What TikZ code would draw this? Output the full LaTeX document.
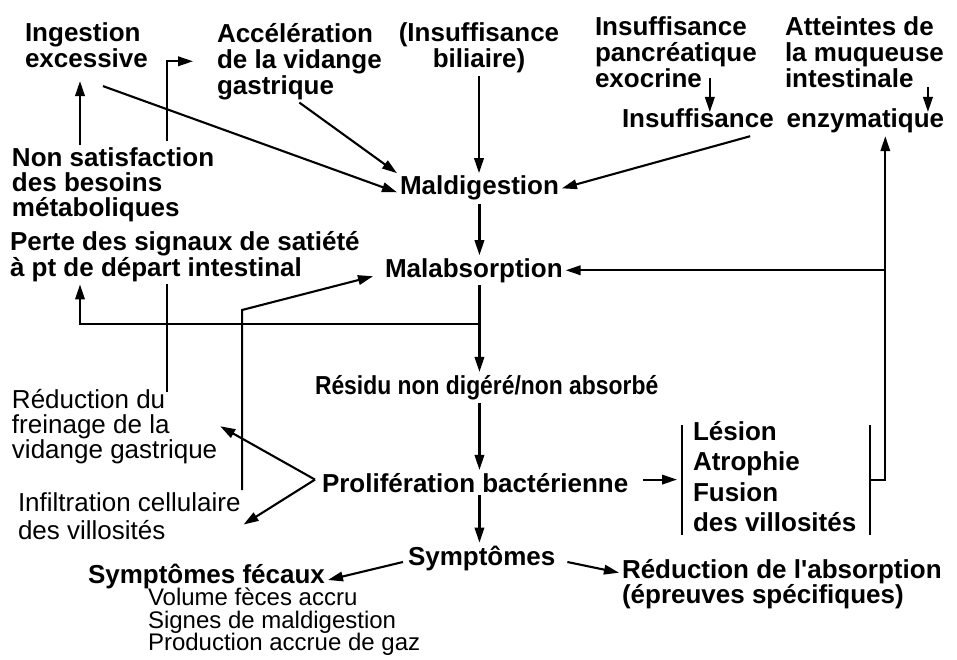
\documentclass[tikz,border=0pt]{standalone}
\usepackage{fontspec}
\setmainfont{Liberation Sans}[Ligatures=TeXOff]
\usetikzlibrary{arrows.meta}
\newcommand\boxfont{\fontsize{26}{26}\selectfont\bfseries}
\newcommand\notefont{\fontsize{26}{25}\selectfont}
\newcommand\listfont{\fontsize{24}{22.5}\selectfont}
\tikzset{
  stagetext/.style={font=\boxfont, inner sep=0pt, outer sep=3pt, align=left},
  notetext/.style={font=\notefont, inner sep=0pt, outer sep=3pt, align=left},
  flowarrow/.style={-{Triangle[length=15pt,width=9.5pt]}, line width=2.1pt},
  flowline/.style={line width=2.1pt},
}

\begin{document}
\begin{tikzpicture}[x=1pt,y=-1pt]
  \useasboundingbox (0,0) rectangle (957,660);
  \fill[white] (0,0) rectangle (957,660);
  \node[stagetext, anchor=north west] (ingest) at (22,20) {Ingestion\\excessive};
  \node[stagetext, anchor=north west] (accel) at (214,20) {Accélération\\de la vidange\\gastrique};
  \node[stagetext, anchor=north, align=center] (bili) at (479,20) {(Insuffisance\\biliaire)};
  \node[stagetext, anchor=north west] (pancr) at (592,14) {Insuffisance\\pancréatique\\exocrine};
  \node[stagetext, anchor=north west] (atteint) at (782,14) {Atteintes de\\la muqueuse\\intestinale};
  \node[stagetext, anchor=north west] (enzym) at (619,106) {Insuffisance\hspace{13pt}enzymatique};
  \node[stagetext, anchor=north west, font=\fontsize{26}{25}\selectfont\bfseries] (nonsat) at (9,145) {Non satisfaction\\des besoins\\métaboliques};
  \node[stagetext, anchor=north west] (perte) at (7,228) {Perte des signaux de satiété\\à pt de départ intestinal};
  \node[stagetext, anchor=base west] (maldig) at (397,195) {Maldigestion};
  \node[stagetext, anchor=base west] (malabs) at (382,277) {Malabsorption};
  \node[stagetext, anchor=base west] (residu) at (312,394) {\addfontfeature{FakeStretch=0.88}Résidu non digéré/non absorbé};
  \node[stagetext, anchor=base west] (prolif) at (319,492) {Prolifération bactérienne};
  \node[stagetext, anchor=north west, font=\fontsize{26}{30.5}\selectfont\bfseries] (lesion) at (690,418) {Lésion\\Atrophie\\Fusion\\des villosités};
  \node[notetext, anchor=north west] (freinage) at (9,386) {Réduction du\\freinage de la\\vidange gastrique};
  \node[notetext, anchor=north west, font=\fontsize{26}{28}\selectfont] (infiltr) at (15,490) {Infiltration cellulaire\\des villosités};
  \node[stagetext, anchor=base west] (sympt) at (405,565) {Symptômes};
  \node[stagetext, anchor=base west] (symfec) at (85,583) {Symptômes fécaux};
  \node[notetext, anchor=north west, font=\listfont] (feclist) at (145,585) {Volume fèces accru\\Signes de maldigestion\\Production accrue de gaz};
  \node[stagetext, anchor=north west, font=\fontsize{26}{25}\selectfont\bfseries] (redabs) at (619,556) {Réduction de l'absorption\\(épreuves spécifiques)};

  % into maldigestion
  \draw[flowarrow] (bili.south) -- (bili.south |- maldig.north);
  \draw[flowarrow] ([xshift=16.5pt,yshift=-15pt]ingest.south) -- ([yshift=-4pt]maldig.west);
  \draw[flowarrow] (accel.south) -- (maldig.north west);
  \draw[flowarrow] ([xshift=-33pt]enzym.south) -- (maldig.east);
  \path ([xshift=-50pt,yshift=13pt]pancr.south east) coordinate (exo);
  \draw[flowarrow, shorten >=-6pt] (exo) -- (exo |- enzym.north);
  \path ([xshift=-19pt,yshift=4pt]atteint.south east) coordinate (muq);
  \draw[flowarrow, shorten >=-6pt] (muq) -- (muq |- enzym.north);
  \path ([xshift=71pt]nonsat.north west) coordinate (needs);
  \draw[flowarrow, shorten >=10pt] (needs) -- (needs |- ingest.south);
  \draw[flowarrow] ([xshift=158pt,yshift=4pt]nonsat.north west) |- ([xshift=-21pt]accel.west);

  % main axis
  \draw[flowarrow] (maldig.south) -- (maldig.south |- malabs.north);
  \draw[flowarrow] (maldig.south |- malabs.south) -- (maldig.south |- residu.north);
  \path (maldig.south |- malabs.south) ++(0,39) coordinate (split);
  \draw[flowarrow] (split) -| ([xshift=73pt]perte.south west);
  \draw[flowarrow] (maldig.south |- residu.south) -- (maldig.south |- prolif.north);
  \draw[flowarrow] (maldig.south |- prolif.south) -- (maldig.south |- sympt.north);

  % left side
  \path ([xshift=158pt,yshift=-6pt]freinage.north west) coordinate (brake);
  \draw[flowline] (brake) -- (brake |- perte.south);
  \path ([xshift=-1.5pt]infiltr.north east) coordinate (infl);
  \draw[flowarrow] (infl) -- ++(0,-180) -- ([xshift=-9pt,yshift=-6pt]malabs.west);
  \path ([xshift=-4pt,yshift=3pt]prolif.west) coordinate (fork);
  \draw[flowarrow] (fork) -- (freinage.east);
  \draw[flowarrow] (fork) -- ([yshift=-8pt]infiltr.east);

  % right side
  \path ([xshift=12pt,yshift=3pt]prolif.east) coordinate (toles);
  \draw[flowarrow, shorten >=13pt] (toles) -- (toles -| lesion.west);
  \draw[flowline] ([xshift=-8pt,yshift=-7pt]lesion.north west) -- ([xshift=-8pt]lesion.south west);
  \draw[flowline] ([xshift=11pt,yshift=-7pt]lesion.north east) -- ([xshift=11pt]lesion.south east);
  \path ([xshift=11pt,yshift=-4pt]lesion.east) ++(15,0) coordinate (riser);
  \draw[flowarrow] ([xshift=11pt,yshift=-4pt]lesion.east) -- (riser) -- (riser |- enzym.south);
  \draw[flowarrow] (riser |- malabs.east) -- (malabs.east);

  % symptoms
  \draw[flowarrow] ([xshift=-2pt,yshift=-4pt]sympt.west) -- ([yshift=-4pt]symfec.east);
  \draw[flowarrow] ([xshift=9pt,yshift=-4pt]sympt.east) -- ([yshift=11pt]redabs.west);
\end{tikzpicture}
\end{document}
